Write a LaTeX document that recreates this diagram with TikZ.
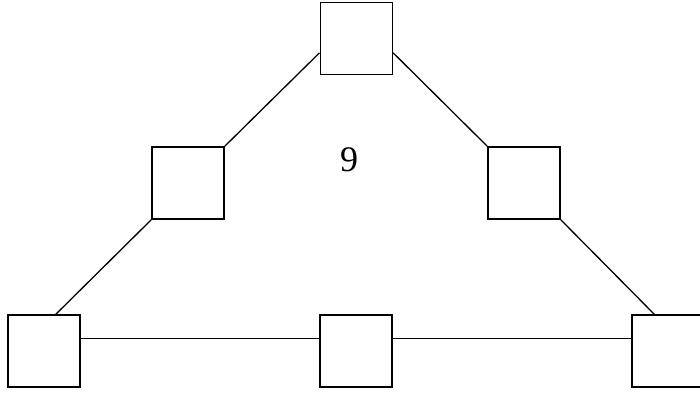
\documentclass[tikz,border=0pt]{standalone}
\usepackage{fontspec}
\setmainfont{Liberation Serif}
\begin{document}
\begin{tikzpicture}[x=1pt,y=-1pt,
  box/.style={draw, line width=1.6pt, minimum width=72pt, minimum height=72pt, inner sep=0pt},
  link/.style={line width=1.3pt}]
\useasboundingbox (0,0) rectangle (700,394);
\clip (0,0) rectangle (700,394);
\node[box] (top) at (356.3,38.3) {};
\node[box] (ml) at (188,183) {};
\node[box] (mr) at (524,183) {};
\node[box] (bl) at (44,351) {};
\node[box] (bm) at (356,351) {};
\node[box] (br) at (668,351) {};
\node[font=\fontsize{36}{42}\selectfont, inner sep=0pt] (lbl) at (349,160) {9};
\draw[link] (ml.north east) -- ([yshift=22.3pt]top.south west);
\draw[link] (mr.north west) -- ([yshift=22.3pt]top.south east);
\draw[link] (ml.south west) -- ([xshift=48.7pt]bl.north west);
\draw[link] (mr.south east) -- ([xshift=23pt]br.north west);
\draw[link] ([yshift=12.3pt]bl.east) -- ([yshift=12.3pt]bm.west);
\draw[link] ([yshift=12.3pt]bm.east) -- ([yshift=12.3pt]br.west);
\end{tikzpicture}
\end{document}
